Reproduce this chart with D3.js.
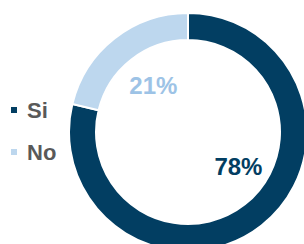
<!DOCTYPE html>
<html>
<head>
  <meta charset="utf-8">
  <title>Si / No</title>
  <style type="text/css">
body{
  margin: 0;
  background: #fff;
}
  </style>
</head>
<body>
<div id="chartContainer"></div>
<script src="https://cdn.jsdelivr.net/npm/d3@7"></script>
<script type="text/javascript">
var categories = ["Si", "No"];
var values = [78, 21];
var labels = ["78%", "21%"];
var colors = ["#023e62", "#bdd7ee"];
var labelColors = ["#023e62", "#9dc3e6"];
// label angle (turns from 12 o'clock) and radius, as placed in the original
var labelTurn = [0.345, 0.898];
var labelRadius = [61, 58];

var width = 304, height = 244;
var cx = 188, cy = 132;
var outerR = 119, innerR = 92;

var svg = d3.select("#chartContainer").append("svg")
    .attr("width", width)
    .attr("height", height);

var pie = d3.pie().sort(null).value(function (d) { return d; });
var arc = d3.arc().innerRadius(innerR).outerRadius(outerR);
var arcs = pie(values);

var g = svg.append("g").attr("transform", "translate(" + cx + "," + cy + ")");

g.selectAll("path")
  .data(arcs)
  .enter()
  .append("path")
    .attr("d", arc)
    .attr("fill", function (d, i) { return colors[i]; })
    .attr("stroke", "#fff")
    .attr("stroke-width", 2);

g.selectAll("text.lbl")
  .data(arcs)
  .enter()
  .append("text")
    .attr("class", "lbl")
    .attr("x", function (d, i) { return labelRadius[i] * Math.sin(labelTurn[i] * 2 * Math.PI); })
    .attr("y", function (d, i) { return -labelRadius[i] * Math.cos(labelTurn[i] * 2 * Math.PI); })
    .attr("dy", "0.36em")
    .style("text-anchor", "middle")
    .style("font-family", "'Liberation Sans', Arial, sans-serif")
    .style("font-weight", "bold")
    .style("font-size", "24px")
    .style("fill", function (d, i) { return labelColors[i]; })
    .text(function (d, i) { return labels[i]; });

// legend
var legend = svg.selectAll("g.legend")
  .data(categories)
  .enter()
  .append("g")
    .attr("class", "legend")
    .attr("transform", function (d, i) { return "translate(11," + (110 + i * 42) + ")"; });

legend.append("rect")
    .attr("x", 0)
    .attr("y", -3)
    .attr("width", 6)
    .attr("height", 6)
    .attr("fill", function (d, i) { return colors[i]; });

legend.append("text")
    .attr("x", 16)
    .attr("y", 0)
    .attr("dy", "0.36em")
    .style("font-family", "'Liberation Sans', Arial, sans-serif")
    .style("font-weight", "bold")
    .style("font-size", "22px")
    .style("fill", "#595959")
    .text(function (d) { return d; });
</script>
</body>
</html>
